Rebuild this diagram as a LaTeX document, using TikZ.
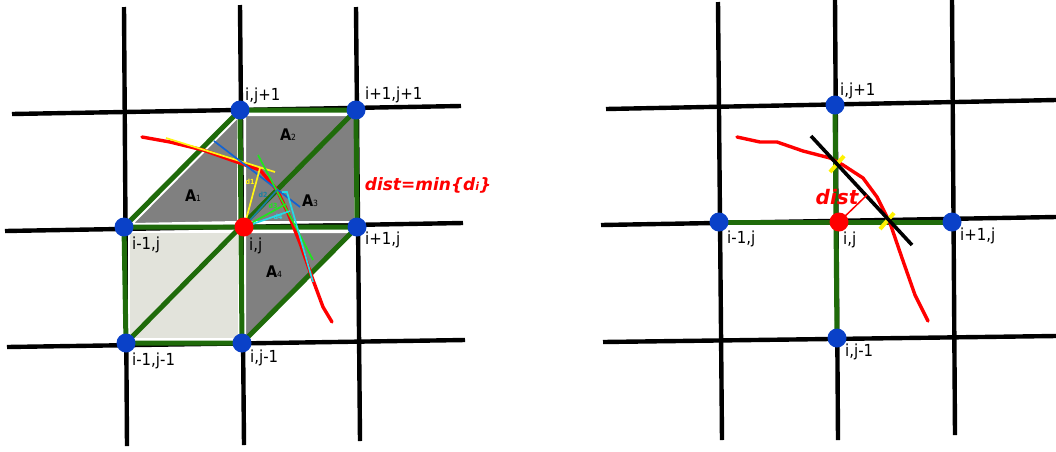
\documentclass[tikz,border=0pt]{standalone}
\usepackage{fontspec}
\setmainfont{DejaVu Sans Condensed}
\newfontfamily\plainfont{DejaVu Sans}
\usepackage{xcolor}
\usetikzlibrary{arrows.meta,positioning,calc}
\definecolor{meshgreen}{HTML}{1F6B0A}
\definecolor{nodeblue}{HTML}{0A41C8}
\definecolor{cellgray}{HTML}{808080}
\definecolor{celllight}{HTML}{E2E3DB}
\definecolor{distteal}{HTML}{1A7FA0}
\definecolor{dblue}{HTML}{1464D2}
\definecolor{dyellow}{HTML}{FFF514}
\definecolor{dgreen}{HTML}{1EE61E}
\definecolor{dcyan}{HTML}{23DCE6}
\tikzset{
  gridline/.style={line width=4.4pt, black},
  meshline/.style={line width=5pt, meshgreen},
  cellfill/.style={fill=#1, draw=white, line width=2pt, line join=round},
  cellfill/.default=cellgray,
  gridnode/.style={circle, fill=nodeblue, inner sep=0pt, minimum size=19pt},
  centernode/.style={circle, fill=red, inner sep=0pt, minimum size=19pt},
  ptlabel/.style={font=\fontsize{16.6}{16.6}\selectfont, anchor=west, inner sep=0pt},
  arealabel/.style={font=\fontsize{16}{16}\selectfont\bfseries, inner sep=0pt},
  dlabel/.style={font=\fontsize{7}{7}\selectfont\bfseries, color=#1, inner sep=0pt},
  distlabel/.style={font=\plainfont\fontsize{#1}{#1}\selectfont\bfseries\itshape, color=red, inner sep=0pt},
  curve/.style={line width=#1, red, line join=round, line cap=round},
  tangent/.style={line width=1.7pt, color=#1},
  xmark/.style={line width=4pt, yellow},
}
\begin{document}
\begin{tikzpicture}[x=1pt, y=-1pt]
  \useasboundingbox (0,0) rectangle (1056,451);

  % Left panel - grid lines
  \foreach \a/\b/\c/\d in {12/114/461/106, 5/231/463/223, 7/347/465/340,
                           124/7/127/446, 240/5/244/445, 356/7/360/441} {
    \draw[gridline] (\a,\b) -- (\c,\d);
  }

  % Filled cells
  \fill[cellfill] (132,224) -- (238,117) -- (238,222) -- cycle;
  \fill[cellfill] (245,115) -- (356,115) -- (355,222) -- (245,222) -- cycle;
  \fill[cellfill] (245,232) -- (352,232) -- (245,339) -- cycle;
  \fill[cellfill=celllight] (129,232) -- (239,232) -- (239,339) -- (129,339) -- cycle;

  % Left panel - mesh nodes
  \coordinate (ltop) at (240,110);
  \coordinate (ltopr) at (356,110);
  \coordinate (lwest) at (124,227);
  \coordinate (lmid) at (244,227);
  \coordinate (least) at (357,227);
  \coordinate (lbotl) at (126,343);
  \coordinate (lbot) at (242,343);

  \draw[meshline] (lwest) -- (ltop) -- (ltopr) -- (least) -- (lbot) -- (lbotl) -- (lwest) -- (least);
  \draw[meshline] (ltop) -- (lbot);
  \draw[meshline] (lbotl) -- (ltopr);

  % Interface and its tangents
  \draw[curve=3.4pt] (142,137) -- (170,142) -- (203,150) -- (237,162) -- (260,170)
    -- (277,190) -- (288,213) -- (300,243) -- (313,280) -- (323,307) -- (332,322);
  \draw[tangent=dyellow] (166,138) -- (275,172);
  \draw[tangent=dblue] (214,141) -- (300,207);
  \draw[tangent=dgreen] (258,155) -- (313,260);
  \draw[tangent=dcyan] (282,192) -- (287,192) -- (313,282);
  \draw[tangent=dyellow] (lmid) -- (260,168);
  \draw[tangent=distteal] (lmid) -- (277,190);
  \draw[tangent=dgreen] (lmid) -- (286,204);
  \draw[tangent=dcyan] (lmid) -- (290,211);

  \node[gridnode] (n1) at (ltop) {};
  \node[gridnode] (n2) at (ltopr) {};
  \node[gridnode] (n3) at (lwest) {};
  \node[gridnode] (n4) at (least) {};
  \node[gridnode] (n5) at (lbotl) {};
  \node[gridnode] (n6) at (lbot) {};
  \node[centernode] (n0) at (lmid) {};

  % Labels
  \node[ptlabel] (l1) at (245,96) {i,j+1};
  \node[ptlabel] (l2) at (365,95) {i+1,j+1};
  \node[ptlabel] (l3) at (132,245) {i-1,j};
  \node[ptlabel] (l4) at (249,246) {i,j};
  \node[ptlabel] (l5) at (365,240) {i+1,j};
  \node[ptlabel] (l6) at (132,361) {i-1,j-1};
  \node[ptlabel] (l7) at (250,358) {i,j-1};
  \node[arealabel] (a1) at (193,196) {A{\fontsize{8.5}{9}\selectfont\mdseries 1}};
  \node[arealabel] (a2) at (288,135) {A{\fontsize{8.5}{9}\selectfont\mdseries 2}};
  \node[arealabel] (a3) at (310,201) {A{\fontsize{8.5}{9}\selectfont\mdseries 3}};
  \node[arealabel] (a4) at (274,272) {A{\fontsize{8.5}{9}\selectfont\mdseries 4}};
  \node[dlabel=dyellow] (d1) at (250,182) {d1};
  \node[dlabel=distteal] (d2) at (263,195) {d2};
  \node[dlabel=dgreen] (d3) at (273,206) {d3};
  \node[dlabel=dcyan] (d4) at (278,217) {d4};
  \node[distlabel=17] (dmin) at (428,185) {dist=min\{d{\fontsize{11}{11}\selectfont i}\}};

  % Right panel - grid lines
  \foreach \a/\b/\c/\d in {606/109/1056/100, 601/225/1056/217, 603/342/1056/336,
                           718/2/722/440, 835/0/838/440, 952/0/955/435} {
    \draw[gridline] (\a,\b) -- (\c,\d);
  }

  \coordinate (rtop) at (835,105);
  \coordinate (rwest) at (719,222);
  \coordinate (rmid) at (839,222);
  \coordinate (reast) at (952,222);
  \coordinate (rbot) at (837,338);
  \coordinate (xa) at (837,164);
  \coordinate (xb) at (887,221);

  \draw[meshline] (rtop) -- (rbot);
  \draw[meshline] (rwest) -- (reast);

  \draw[curve=3.4pt] (737,137) -- (760,142) -- (777,142) -- (803,151) -- (830,158)
    -- (843,165) -- (863,178) -- (877,197) -- (890,223) -- (902,258) -- (915,295) -- (928,321);
  \draw[xmark] ($(xa)+(-7,8)$) -- ($(xa)+(7,-8)$);
  \draw[xmark] ($(xb)+(-7,8)$) -- ($(xb)+(7,-8)$);
  \draw[line width=3.6pt] (811,136) -- (912,245);
  \draw[line width=1.5pt, red] (rmid) -- (867,195);

  \node[gridnode] (m1) at (rtop) {};
  \node[gridnode] (m2) at (rwest) {};
  \node[gridnode] (m3) at (reast) {};
  \node[gridnode] (m4) at (rbot) {};
  \node[centernode] (m0) at (rmid) {};

  \node[ptlabel] (r1) at (840,91) {i,j+1};
  \node[ptlabel] (r2) at (727,239) {i-1,j};
  \node[ptlabel] (r3) at (843,240) {i,j};
  \node[ptlabel] (r4) at (960,236) {i+1,j};
  \node[ptlabel] (r5) at (845,352) {i,j-1};
  \node[distlabel=20] (dd) at (837,197) {dist};
\end{tikzpicture}
\end{document}
